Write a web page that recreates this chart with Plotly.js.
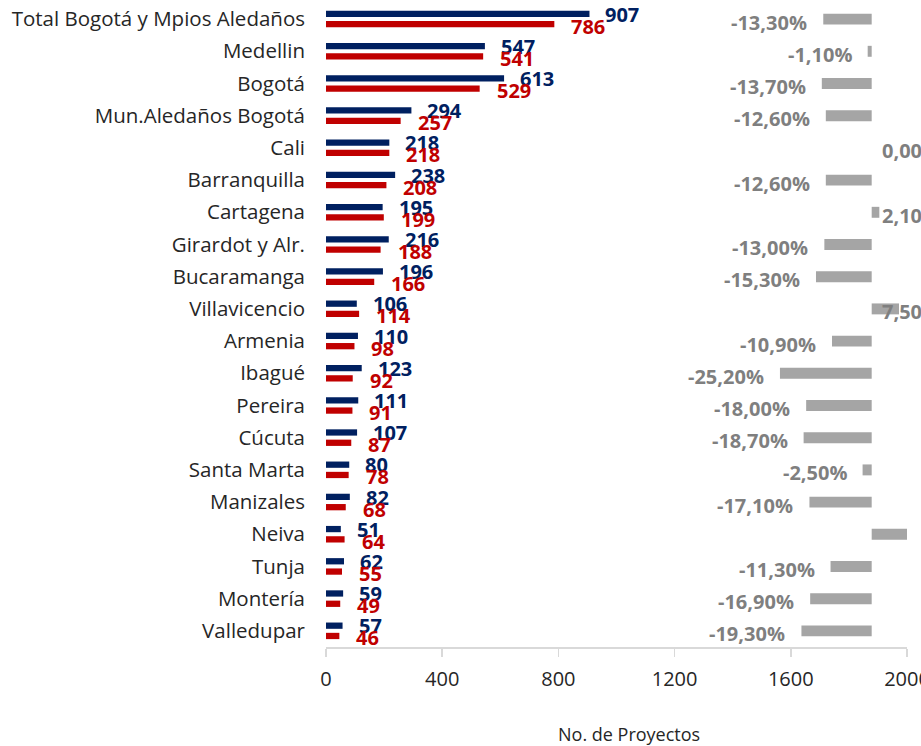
<!DOCTYPE html>
<html>
<head>
<meta charset="utf-8">
<script src="https://cdn.plot.ly/plotly-3.0.1.min.js"></script>
<style>html,body{margin:0;padding:0;background:#fff;}#chart{width:921px;height:746px;}</style>
</head>
<body>
<div id="chart"></div>
<script>
// ---- data ----
const categories = ["Total Bogotá y Mpios Aledaños","Medellin","Bogotá","Mun.Aledaños Bogotá","Cali","Barranquilla","Cartagena","Girardot y Alr.","Bucaramanga","Villavicencio","Armenia","Ibagué","Pereira","Cúcuta","Santa Marta","Manizales","Neiva","Tunja","Montería","Valledupar"];
const seriesPrev = [907,547,613,294,218,238,195,216,196,106,110,123,111,107,80,82,51,62,59,57];
const seriesCurr = [786,541,529,257,218,208,199,188,166,114,98,92,91,87,78,68,64,55,49,46];
const pctChange = [-13.3,-1.1,-13.7,-12.6,0.0,-12.6,2.1,-13.0,-15.3,7.5,-10.9,-25.2,-18.0,-18.7,-2.5,-17.1,25.5,-11.3,-16.9,-19.3];
const xTicks = [0,400,800,1200,1600,2000];
const xTitle = "No. de Proyectos";

// ---- styles ----
const BLUE = "#002060", RED = "#C00000", GREY = "#A5A5A5", GREYTXT = "#7F7F7F", TXT = "#262626";
const FONT = "Open Sans";
const pctRange = [-149.9, 9.7];

const traces = [
  {type:"bar", orientation:"h", x:seriesPrev, y:categories, xaxis:"x", yaxis:"y",
   marker:{color:BLUE}, offset:-0.26, width:0.195, hoverinfo:"x+y"},
  {type:"bar", orientation:"h", x:seriesCurr, y:categories, xaxis:"x", yaxis:"y",
   marker:{color:RED}, offset:0.06, width:0.195, hoverinfo:"x+y"},
  {type:"bar", orientation:"h", x:pctChange, y:categories, xaxis:"x2", yaxis:"y",
   marker:{color:GREY}, width:0.34, hoverinfo:"x+y"}
];

const fmtPct = v => v.toFixed(2).replace(".", ",") + "%";
const annotations = [];
categories.forEach((c, i) => {
  annotations.push({x:seriesPrev[i], y:c, xref:"x", yref:"y", text:String(seriesPrev[i]),
    showarrow:false, xanchor:"left", yanchor:"middle", xshift:14, yshift:5,
    font:{family:FONT, size:20, color:BLUE, weight:700}});
  annotations.push({x:seriesCurr[i], y:c, xref:"x", yref:"y", text:String(seriesCurr[i]),
    showarrow:false, xanchor:"left", yanchor:"middle", xshift:15, yshift:-7,
    font:{family:FONT, size:20, color:RED, weight:700}});
  const v = pctChange[i];
  let ax;
  if (v < 0) ax = {x:v, xanchor:"right", xshift:-14};
  else if (v <= pctRange[1]) ax = {x:0, xanchor:"left", xshift:8};
  else ax = {x:v, xanchor:"left", xshift:3};
  annotations.push(Object.assign({y:c, xref:"x2", yref:"y", text:fmtPct(v), showarrow:false,
    yanchor:"middle", yshift:-3, font:{family:FONT, size:20, color:GREYTXT, weight:700}}, ax));
});
annotations.push({xref:"paper", yref:"paper", x:(629-326)/581, y:-0.135, text:xTitle, showarrow:false,
  xanchor:"center", yanchor:"middle", font:{family:FONT, size:18, color:TXT}});

const layout = {
  width:921, height:746,
  margin:{l:326, r:14, t:3, b:99, pad:0},
  paper_bgcolor:"#fff", plot_bgcolor:"#fff",
  barmode:"overlay",
  showlegend:false,
  font:{family:FONT, color:TXT},
  xaxis:{range:[0,2000], tickmode:"array", tickvals:xTicks, ticktext:xTicks.map(String), showgrid:false, zeroline:false,
    showline:true, linecolor:"#D9D9D9", linewidth:1.5, ticks:"outside", ticklen:8, tickwidth:1.5,
    tickcolor:"#D9D9D9", tickfont:{family:FONT, size:20, color:TXT}, ticklabeloverflow:"allow",
    ticklabelstandoff:5, fixedrange:true},
  xaxis2:{range:pctRange, overlaying:"x", visible:false, fixedrange:true},
  yaxis:{type:"category", categoryorder:"array", categoryarray:categories, range:[19.5,-0.5],
    showgrid:false, zeroline:false, showline:false, ticks:"", ticklabelstandoff:20,
    tickfont:{family:FONT, size:20.5, color:TXT}, fixedrange:true},
  annotations:annotations
};

Plotly.newPlot("chart", traces, layout, {displayModeBar:false, staticPlot:true});
</script>
</body>
</html>
